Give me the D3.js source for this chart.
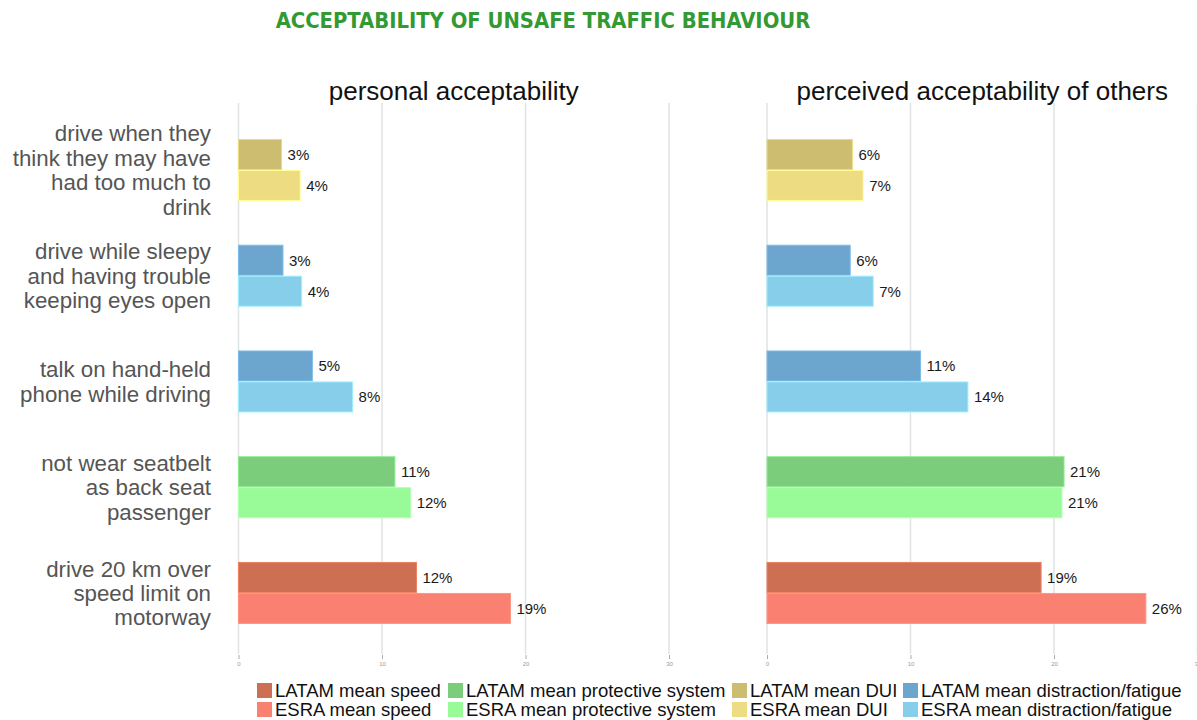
<!DOCTYPE html>
<html>
<head>
<meta charset="utf-8">
<script src="https://cdn.jsdelivr.net/npm/d3@7"></script>
<style>
  body { margin: 0; background: #fff; }
  svg { display: block; font-family: "Liberation Sans", Arial, sans-serif; }
</style>
</head>
<body>
<svg id="chart"></svg>
<script>
// categories (top to bottom) and the legend group each belongs to
const categories = [
  "drive when they|think they may have|had too much to|drink",
  "drive while sleepy|and having trouble|keeping eyes open",
  "talk on hand-held|phone while driving",
  "not wear seatbelt|as back seat|passenger",
  "drive 20 km over|speed limit on|motorway"
]
const catGroup = ["DUI", "distraction/fatigue", "distraction/fatigue", "protective system", "speed"]
const series = ["LATAM", "ESRA"]

// values (%)
const personalLatam = [3.0, 3.1, 5.15, 10.9, 12.4]
const personalEsra  = [4.3, 4.4, 7.95, 12.0, 18.95]
const othersLatam   = [5.95, 5.8, 10.7, 20.7, 19.1]
const othersEsra    = [6.7, 7.4, 14.0, 20.55, 26.4]

const panelTitles = ["personal acceptability", "perceived acceptability of others"]
const xTicks = [0, 10, 20, 30]

const legendGroups = ["speed", "protective system", "DUI", "distraction/fatigue"]
const colors = {
  "LATAM speed": "#cd6f53", "ESRA speed": "#fa8072",
  "LATAM protective system": "#7bcd7b", "ESRA protective system": "#98fb98",
  "LATAM DUI": "#cdbd70", "ESRA DUI": "#eedc82",
  "LATAM distraction/fatigue": "#6ca5cd", "ESRA distraction/fatigue": "#87ceeb"
}

const width = 1197
const height = 720

const svg = d3.select('#chart')
  .attr('width', width)
  .attr('height', height)

// title
const title = svg.append('text')
  .attr('x', 543).attr('y', 28)
  .attr('text-anchor', 'middle')
  .attr('fill', '#339933')
  .style('font-family', '"DejaVu Sans Condensed", "DejaVu Sans", Verdana, sans-serif')
  .style('font-stretch', 'condensed')
  .style('font-weight', 'bold')
  .style('font-size', '19px')
  .text('ACCEPTABILITY OF UNSAFE TRAFFIC BEHAVIOUR')
// squeeze to the width of the original
const tw = title.node().getComputedTextLength()
title.style('font-size', (19 * 535 / tw) + 'px')

// y scales
const yScale = d3.scaleBand()
  .domain(categories)
  .range([86.1, 676.8])
  .paddingInner(0.414)
  .paddingOuter(0.5)

const ySub = d3.scaleBand()
  .domain(series)
  .range([0, yScale.bandwidth()])

// category labels
categories.forEach(cat => {
  const lines = cat.split('|')
  const cy = yScale(cat) + yScale.bandwidth() / 2
  const lh = 24.4
  const t = svg.append('text')
    .attr('text-anchor', 'end')
    .attr('fill', '#555')
    .style('font-size', '22.3px')
  lines.forEach((ln, i) => {
    t.append('tspan')
      .attr('x', 211)
      .attr('y', cy + (i - (lines.length - 1) / 2) * lh + 8)
      .text(ln)
  })
})

const panels = [
  { title: panelTitles[0], x0: 238.5, LATAM: personalLatam, ESRA: personalEsra },
  { title: panelTitles[1], x0: 767, LATAM: othersLatam, ESRA: othersEsra }
]

panels.forEach(p => {
  const xScale = d3.scaleLinear()
    .domain([0, 30])
    .range([p.x0, p.x0 + 430.5])

  const g = svg.append('g')

  // grid lines
  g.selectAll('.grid')
    .data(xTicks)
    .join('line')
      .attr('x1', d => xScale(d)).attr('x2', d => xScale(d))
      .attr('y1', 103).attr('y2', 654)
      .attr('stroke', '#dfe3e3')
      .attr('stroke-width', 1.5)

  // bottom axis
  const xAxis = d3.axisBottom(xScale)
    .tickValues(xTicks)
    .tickSize(4)
    .tickPadding(3)
  const ax = g.append('g')
    .attr('transform', 'translate(0, 655)')
    .call(xAxis)
  ax.select('.domain').remove()
  ax.selectAll('line').attr('stroke', '#aaa')
  ax.selectAll('text')
    .attr('fill', '#999')
    .style('font-size', '6px')
    .style('font-family', '"Liberation Sans", Arial, sans-serif')

  // panel title
  g.append('text')
    .attr('x', xScale(15)).attr('y', 100)
    .attr('text-anchor', 'middle')
    .attr('fill', '#111')
    .style('font-size', '26px')
    .text(p.title)

  // bars
  const rows = []
  categories.forEach((cat, i) => {
    series.forEach(s => {
      rows.push({ cat, s, v: p[s][i], color: colors[s + ' ' + catGroup[i]] })
    })
  })

  g.selectAll('.bar')
    .data(rows)
    .join('rect')
      .attr('x', xScale(0))
      .attr('y', d => yScale(d.cat) + ySub(d.s) + 0.5)
      .attr('width', d => xScale(d.v) - xScale(0))
      .attr('height', ySub.bandwidth() - 1)
      .attr('fill', d => d.color)
      .attr('stroke', d => d3.color(d.color).brighter(0.4))
      .attr('stroke-width', 1)

  g.selectAll('.lbl')
    .data(rows)
    .join('text')
      .attr('x', d => xScale(d.v) + 6)
      .attr('y', d => yScale(d.cat) + ySub(d.s) + ySub.bandwidth() / 2 + 5.5)
      .attr('fill', '#1a1a1a')
      .style('font-size', '15px')
      .text(d => Math.round(d.v) + '%')
})

// legend
const legendX = [257, 448, 732, 903]
series.forEach((s, r) => {
  legendGroups.forEach((grp, c) => {
    const lg = svg.append('g')
      .attr('transform', `translate(${legendX[c]}, ${683 + r * 19})`)
    lg.append('rect')
      .attr('width', 15).attr('height', 15)
      .attr('fill', colors[s + ' ' + grp])
    lg.append('text')
      .attr('x', 18).attr('y', 13.5)
      .attr('fill', '#111')
      .style('font-size', '18.5px')
      .text(s + ' mean ' + grp)
  })
})
</script>
</body>
</html>
